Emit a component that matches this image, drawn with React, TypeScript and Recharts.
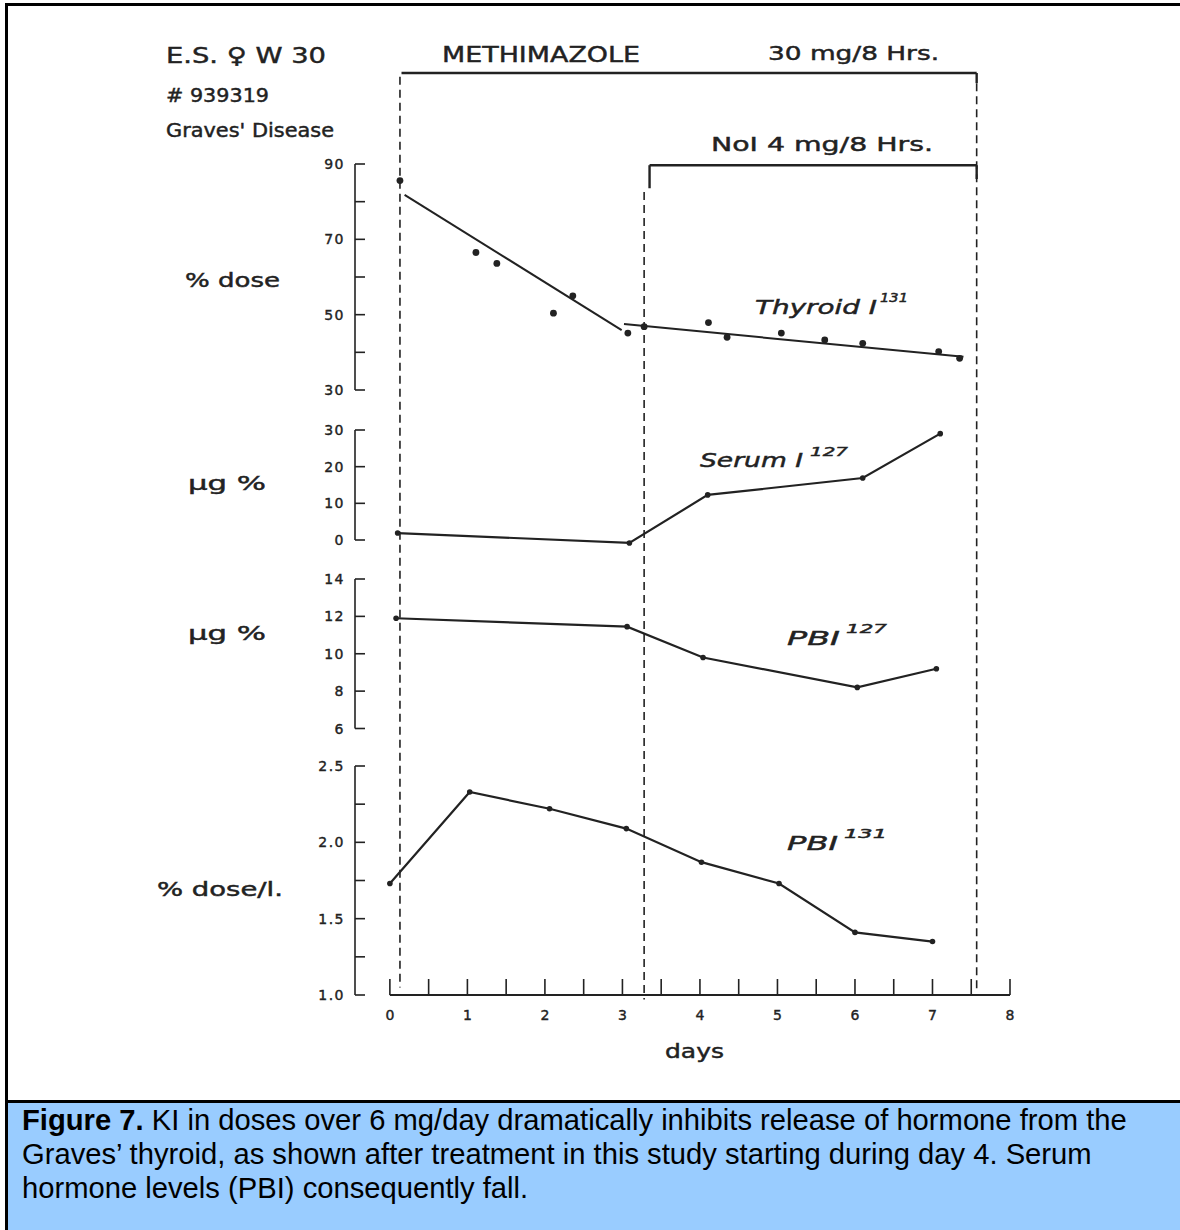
import React from "react";
import { ComposedChart, Line, XAxis, YAxis, ReferenceLine } from "recharts";

const INK = "#222";
const FONT = "'DejaVu Sans', sans-serif";

// x axis (days)
const dayTicks = [0, 0.5, 1, 1.5, 2, 2.5, 3, 3.5, 4, 4.5, 5, 5.5, 6, 6.5, 7, 7.5, 8];
const X_DOMAIN = [-0.45, 8];

// treatment periods (days)
const methimazoleStart = 0.13;
const kiStart = 3.28;
const kiBracketStart = 3.35;
const treatmentEnd = 7.57;

// Thyroid I-131 (% dose) measured points
const thyroidDays = [0.13, 1.11, 1.38, 2.11, 2.36, 3.07, 3.28, 4.11, 4.35, 5.05, 5.61, 6.1, 7.08, 7.35];
const thyroidPct = [85.6, 66.5, 63.6, 50.4, 55.0, 45.1, 46.8, 47.9, 44.0, 45.1, 43.3, 42.4, 40.2, 38.4];
// fitted lines
const fitEarlyDays = [0.19, 2.99];
const fitEarly = [81.8, 45.9];
const fitLateDays = [3.02, 7.4];
const fitLate = [47.5, 38.8];
const thyroidTicks = [30, 40, 50, 60, 70, 80, 90];
const thyroidLabels = [30, 50, 70, 90];

// Serum I-127 (µg %)
const serumDays = [0.1, 3.09, 4.1, 6.1, 7.1];
const serumI127 = [1.9, -0.8, 12.3, 16.9, 29];
const serumTicks = [0, 10, 20, 30];

// PBI-127 (µg %)
const pbi127Days = [0.08, 3.06, 4.04, 6.03, 7.05];
const pbi127 = [11.9, 11.45, 9.8, 8.2, 9.2];
const pbi127Ticks = [6, 8, 10, 12, 14];

// PBI-131 (% dose/l.)
const pbi131Days = [0, 1.03, 2.06, 3.05, 4.02, 5.02, 6.0, 7.0];
const pbi131 = [1.73, 2.33, 2.22, 2.09, 1.87, 1.73, 1.41, 1.35];
const pbi131Ticks = [1, 1.25, 1.5, 1.75, 2, 2.25, 2.5];
const pbi131Labels = [1, 1.5, 2, 2.5];

const toPoints = (days: number[], values: number[]) =>
  days.map((d, i) => ({ day: d, value: values[i] }));

const PLOT_LEFT = 355;
const PLOT_RIGHT = 1010;
const PAD = 14;

function YTick(props: any) {
  const { x, y, payload, labeled, digits } = props;
  const v = payload.value;
  const show = labeled.includes(v);
  return (
    <g>
      <line x1={x} x2={x + 10} y1={y} y2={y} stroke={INK} strokeWidth={1.6} />
      {show && (
        <text x={x - 10} y={y} dy={5} textAnchor="end" fontFamily={FONT} fontSize={14} fill={INK} stroke={INK} strokeWidth={0.4} letterSpacing={1.5}>
          {v.toFixed(digits)}
        </text>
      )}
    </g>
  );
}

function XTick(props: any) {
  const { x, y, payload } = props;
  const v = payload.value;
  return (
    <g>
      <line x1={x} x2={x} y1={y} y2={y - 16} stroke={INK} strokeWidth={1.6} />
      {Number.isInteger(v) && (
        <text x={x} y={y + 25} textAnchor="middle" fontFamily={FONT} fontSize={14} fill={INK} stroke={INK} strokeWidth={0.4}>
          {v}
        </text>
      )}
    </g>
  );
}

function Panel(props: any) {
  const { plotTop, plotBottom, domain, ticks, labeled, digits, axisRange, children } = props;
  return (
    <div style={{ position: "absolute", left: 0, top: plotTop - PAD }}>
      <ComposedChart
        width={1180}
        height={plotBottom - plotTop + 2 * PAD}
        margin={{ top: PAD, bottom: PAD, left: PLOT_LEFT - 60, right: 1180 - PLOT_RIGHT }}
      >
        <XAxis type="number" dataKey="day" domain={X_DOMAIN} hide />
        <YAxis
          type="number"
          domain={domain}
          ticks={ticks}
          interval={0}
          width={60}
          axisLine={false}
          tickLine={false}
          tickSize={0}
          tickMargin={0}
          tick={<YTick labeled={labeled} digits={digits} />}
        />
        <ReferenceLine
          segment={[{ x: X_DOMAIN[0], y: axisRange[0] }, { x: X_DOMAIN[0], y: axisRange[1] }]}
          stroke={INK}
          strokeWidth={1.6}
          ifOverflow="visible"
        />
        {children}
      </ComposedChart>
    </div>
  );
}

const lineProps = {
  type: "linear" as const,
  dataKey: "value",
  stroke: INK,
  strokeWidth: 2.2,
  isAnimationActive: false,
  dot: { r: 2.8, fill: INK, stroke: "none" },
  activeDot: false,
};

function T(props: any) {
  const { x, y, len, size = 20, italic, children } = props;
  return (
    <text
      x={x}
      y={y}
      textLength={len}
      lengthAdjust="spacingAndGlyphs"
      fontFamily={FONT}
      fontSize={size}
      fontStyle={italic ? "italic" : "normal"}
      fill={INK}
      stroke={INK}
      strokeWidth={0.45}
    >
      {children}
    </text>
  );
}

export default function App() {
  const dash = { stroke: INK, strokeWidth: 1.6, strokeDasharray: "8 5", ifOverflow: "visible" as const };
  const solid = { stroke: INK, strokeWidth: 2.4, ifOverflow: "visible" as const };
  const axisData = toPoints([0, 8], [0, 0]);
  return (
    <div style={{ position: "absolute", left: 0, top: 0, width: 1180, height: 1230, background: "#fff", overflow: "hidden" }}>
      {/* frame */}
      <div style={{ position: "absolute", left: 5, top: 3, width: 1200, height: 1240, borderLeft: "3px solid #000", borderTop: "3px solid #000" }} />

      {/* background: x axis, dashed period lines, treatment brackets */}
      <div style={{ position: "absolute", left: 0, top: 0 }}>
        <ComposedChart
          width={1180}
          height={1100}
          data={axisData}
          margin={{ top: 73, bottom: 1100 - 995 - 60, left: PLOT_LEFT, right: 1180 - PLOT_RIGHT }}
        >
          <XAxis
            type="number"
            dataKey="day"
            domain={X_DOMAIN}
            ticks={dayTicks}
            interval={0}
            height={60}
            axisLine={false}
            tickLine={false}
            tickSize={0}
            tickMargin={0}
            tick={<XTick />}
          />
          <YAxis type="number" domain={[0, 1]} hide />
          <Line type="linear" dataKey="value" stroke={INK} strokeWidth={1.8} dot={false} activeDot={false} isAnimationActive={false} />
          <ReferenceLine segment={[{ x: methimazoleStart, y: 0.996 }, { x: methimazoleStart, y: 0.008 }]} {...dash} />
          <ReferenceLine segment={[{ x: kiStart, y: 0.871 }, { x: kiStart, y: -0.005 }]} {...dash} />
          <ReferenceLine segment={[{ x: treatmentEnd, y: 0.989 }, { x: treatmentEnd, y: 0.005 }]} {...dash} />
          <ReferenceLine segment={[{ x: methimazoleStart + 0.02, y: 1 }, { x: treatmentEnd, y: 1 }]} {...solid} />
          <ReferenceLine segment={[{ x: treatmentEnd, y: 1 }, { x: treatmentEnd, y: 0.989 }]} {...solid} />
          <ReferenceLine segment={[{ x: kiBracketStart, y: 0.9 }, { x: treatmentEnd, y: 0.9 }]} {...solid} />
          <ReferenceLine segment={[{ x: kiBracketStart, y: 0.9 }, { x: kiBracketStart, y: 0.875 }]} {...solid} />
          <ReferenceLine segment={[{ x: treatmentEnd, y: 0.9 }, { x: treatmentEnd, y: 0.885 }]} {...solid} />
        </ComposedChart>
      </div>

      <Panel plotTop={164} plotBottom={390} domain={[30, 90]} ticks={thyroidTicks} labeled={thyroidLabels} digits={0} axisRange={[30, 90]}>
        <Line {...lineProps} data={toPoints(thyroidDays, thyroidPct)} stroke="none" dot={{ r: 3.4, fill: INK, stroke: "none" }} />
        <Line {...lineProps} data={toPoints(fitEarlyDays, fitEarly)} dot={false} strokeWidth={2} />
        <Line {...lineProps} data={toPoints(fitLateDays, fitLate)} dot={false} strokeWidth={2} />
      </Panel>

      <Panel plotTop={430} plotBottom={551} domain={[-3, 30]} ticks={serumTicks} labeled={serumTicks} digits={0} axisRange={[0, 30]}>
        <Line {...lineProps} data={toPoints(serumDays, serumI127)} />
      </Panel>

      <Panel plotTop={579} plotBottom={728.5} domain={[6, 14]} ticks={pbi127Ticks} labeled={pbi127Ticks} digits={0} axisRange={[6, 14]}>
        <Line {...lineProps} data={toPoints(pbi127Days, pbi127)} />
      </Panel>

      <Panel plotTop={766} plotBottom={995} domain={[1, 2.5]} ticks={pbi131Ticks} labeled={pbi131Labels} digits={1} axisRange={[1, 2.5]}>
        <Line {...lineProps} data={toPoints(pbi131Days, pbi131)} />
      </Panel>

      {/* annotations */}
      <svg width={1180} height={1100} style={{ position: "absolute", left: 0, top: 0, pointerEvents: "none" }}>
        <T x={166} y={63} len={160} size={22}>E.S. ♀ W 30</T>
        <T x={166} y={101.5} len={103} size={20}># 939319</T>
        <T x={166} y={136.5} len={168} size={19}>Graves' Disease</T>
        <T x={442} y={61.5} len={198} size={22}>METHIMAZOLE</T>
        <T x={768} y={60} len={171} size={20}>30 mg/8 Hrs.</T>
        <T x={711} y={151} len={222} size={20}>NoI 4 mg/8 Hrs.</T>

        <T x={185} y={287} len={95} size={19}>% dose</T>
        <T x={188} y={490} len={78} size={20}>µg %</T>
        <T x={188} y={640} len={78} size={20}>µg %</T>
        <T x={157} y={896} len={126} size={19}>% dose/l.</T>

        <T x={755} y={314} len={122} size={20} italic>Thyroid I</T>
        <T x={880} y={302} len={28} size={13} italic>131</T>
        <T x={700} y={467} len={103} size={20} italic>Serum I</T>
        <T x={810} y={456} len={38} size={13} italic>127</T>
        <T x={787} y={645} len={53} size={20} italic>PBI</T>
        <T x={846} y={633} len={41} size={13} italic>127</T>
        <T x={787} y={850} len={51} size={20} italic>PBI</T>
        <T x={844} y={838} len={43} size={13} italic>131</T>

        <T x={665} y={1058} len={59} size={20}>days</T>
      </svg>

      {/* caption */}
      <div
        style={{
          position: "absolute",
          left: 5,
          top: 1100,
          width: 1200,
          height: 140,
          background: "#99CCFF",
          borderTop: "3px solid #000",
          borderLeft: "3px solid #000",
          boxSizing: "border-box",
          padding: "0 0 0 14px",
          fontFamily: "'Liberation Sans', Arial, sans-serif",
          fontSize: 29.2,
          lineHeight: "34px",
          color: "#000",
        }}
      >
        <div style={{ width: 1140 }}>
          <b>Figure 7.</b> KI in doses over 6 mg/day dramatically inhibits release of hormone from the Graves’ thyroid, as shown after treatment in this study starting during day 4. Serum hormone levels (PBI) consequently fall.
        </div>
      </div>
    </div>
  );
}
